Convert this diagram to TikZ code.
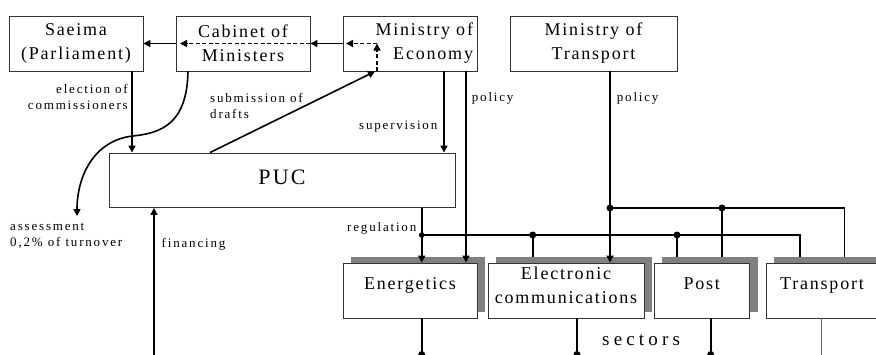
\documentclass[tikz,border=0pt]{standalone}
\usepackage{fontspec}
\setmainfont{Liberation Serif}
\newfontfamily\bxfont[LetterSpace=10]{Liberation Serif}
\newfontfamily\lbfont[LetterSpace=14]{Liberation Serif}
\newfontfamily\secfont[LetterSpace=22]{Liberation Serif}
\usetikzlibrary{arrows.meta}
\pgfdeclarelayer{shadowlayer}
\pgfsetlayers{shadowlayer,main}
\definecolor{shadowgray}{RGB}{128,128,128}
\tikzset{
  box/.style={draw=black!80, line width=0.9pt, fill=white, minimum height=55pt,
    inner sep=0pt, align=center, font=\bxfont\fontsize{18}{24}\selectfont},
  conn/.style={line width=1.6pt, draw=black},
  thinconn/.style={line width=1.1pt, draw=black},
  arr/.style={conn, -{Triangle[length=7pt,width=7pt]}},
  darr/.style={arr, dash pattern=on 4pt off 2.5pt},
  lbl/.style={font=\lbfont\fontsize{13}{16}\selectfont, inner sep=0pt},
  dot/.style={circle, fill=black, inner sep=0pt, minimum size=7pt},
  smalldot/.style={dot, minimum size=5.5pt},
  lowtext/.style={text depth=13pt},
}
\begin{document}
\begin{tikzpicture}[x=1pt,y=-1pt]
\useasboundingbox (0,0) rectangle (876,354);
\clip (0,0) rectangle (876,354);
% top row
\node[box, minimum width=134pt] (sae) at (76,43.5) {Saeima\\(Parliament)};
\node[box, minimum width=134pt] (cab) at (243,43.5) {Cabinet of\\Ministers};
\node[box, minimum width=134pt, text width=126pt, align=right] (moe) at (410,43.5) {Ministry of\\Economy};
\node[box, minimum width=167pt] (mot) at (593.5,43.5) {Ministry of\\Transport};
% PUC
\node[box, minimum width=346pt, minimum height=54.5pt,
  font=\bxfont\fontsize{22}{26}\selectfont, text depth=7pt] (puc) at (282,180.25) {PUC};
% sectors
\node[box, minimum width=134pt, lowtext] (en) at (410,290.5) {Energetics};
\node[box, minimum width=156pt, text depth=10pt] (el) at (566,290.5) {Electronic\\communications};
\node[box, minimum width=95.5pt, lowtext] (po) at (701.75,290.5) {Post};
\node[box, minimum width=112pt, lowtext] (tr) at (822,290.5) {Transport};
\begin{pgfonlayer}{shadowlayer}
\foreach \n in {en,el,po,tr}
  \fill[shadowgray] ([shift={(8,-6)}]\n.south west) rectangle ([shift={(8,-6)}]\n.north east);
\end{pgfonlayer}
\coordinate (enTop) at ([yshift=6pt]en.north);
\coordinate (elTop) at ([yshift=6pt]el.north);
\coordinate (poTop) at ([yshift=6pt]po.north);
\coordinate (trTop) at ([yshift=6pt]tr.north);
% x positions
\coordinate (xel) at (132,0);
\coordinate (xcur) at (188,0);
\coordinate (xsub) at (210,0);
\coordinate (xsubend) at (375,0);
\coordinate (xsup) at (444,0);
\coordinate (xpol) at (466,0);
\coordinate (xreg) at (421.7,0);
% Saeima -> PUC
\draw[arr] (sae.south -| xel) -- (puc.north -| xel);
% assessment curve
\coordinate (assTip) at (77,216);
\draw[arr] (cab.south -| xcur) .. controls (187,125) and (160,133) .. (133,136)
  .. controls (95,140) and (77,175) .. (assTip);
% top arrows
\draw[arr] (cab.west) -- (sae.east);
\draw[arr] (moe.west) -- (cab.east);
\coordinate (cabTip) at (180,43.5);
\draw[darr] (cab.east) -- (cabTip);
\coordinate (moeCorner) at (377,43.5);
\coordinate (moeTip) at (346,43.5);
\draw[darr] (moe.south -| moeCorner) -- (moeCorner);
\draw[darr] (moeCorner) -- (moeTip);
% submission of drafts
\draw[arr] (puc.north -| xsub) -- (moe.south -| xsubend);
% supervision
\draw[arr] (moe.south -| xsup) -- (puc.north -| xsup);
% policy MoE
\draw[arr] (moe.south -| xpol) -- (en.north -| xpol);
% regulation
\draw[arr] (puc.south -| xreg) -- (en.north -| xreg);
\node[smalldot] (rj) at (421.7,235) {};
\coordinate (regEnd) at (800,235);
\draw[conn] (rj.center) -- (regEnd) -- (trTop -| regEnd);
\node[dot] (d1) at (532.7,235) {};
\draw[conn] (d1.center) -- (elTop -| d1);
\node[dot] (d2) at (677,235) {};
\draw[thinconn] (d2.center) -- (poTop -| d2);
% policy MoT
\node[dot] (m1) at (610,208) {};
\draw[conn] (mot.south -| m1) -- (m1.center);
\draw[arr] (m1.center) -- (el.north -| m1);
\node[dot] (m2) at (722,208) {};
\coordinate (motEnd) at (844.5,208);
\draw[conn] (m1.center) -- (motEnd) -- (trTop -| motEnd);
\draw[conn] (m2.center) -- (poTop -| m2);
% below sectors
\node[dot] (b1) at (421.7,354.5) {};
\node[dot] (b2) at (577,354.5) {};
\node[dot] (b3) at (710.7,354.5) {};
\coordinate (b4) at (821.7,356);
\draw[conn] (en.south -| b1) -- (b1.center);
\draw[conn] (el.south -| b2) -- (b2.center);
\draw[conn] (po.south -| b3) -- (b3.center);
\draw[line width=0.9pt, draw=black!60] (tr.south -| b4) -- (b4);
% financing
\coordinate (finStart) at (154,356);
\draw[arr] (finStart) -- (puc.south -| finStart);
% labels (base anchor = baseline of the last line)
\node[lbl, align=right, anchor=base east] (lelect) at (128,109.3) {election of\\commissioners};
\node[lbl, align=left, anchor=base west] (lsub) at (210,118.3) {submission of\\drafts};
\node[lbl, anchor=base east] (lsup) at (437.5,129.5) {supervision};
\node[lbl, anchor=base west] (lpol1) at (471.7,101.5) {policy};
\node[lbl, anchor=base west] (lpol2) at (616.7,101.5) {policy};
\node[lbl, anchor=base east] (lreg) at (416.5,231) {regulation};
\node[lbl, align=left, anchor=base west] (lass) at (10,246.7) {assessment\\0,2\% of turnover};
\node[lbl, anchor=base west] (lfin) at (161.5,247.5) {financing};
\node[font=\secfont\fontsize{19}{22}\selectfont, inner sep=0pt, anchor=base west] (lsec) at (602,345.5) {sectors};
\end{tikzpicture}
\end{document}
